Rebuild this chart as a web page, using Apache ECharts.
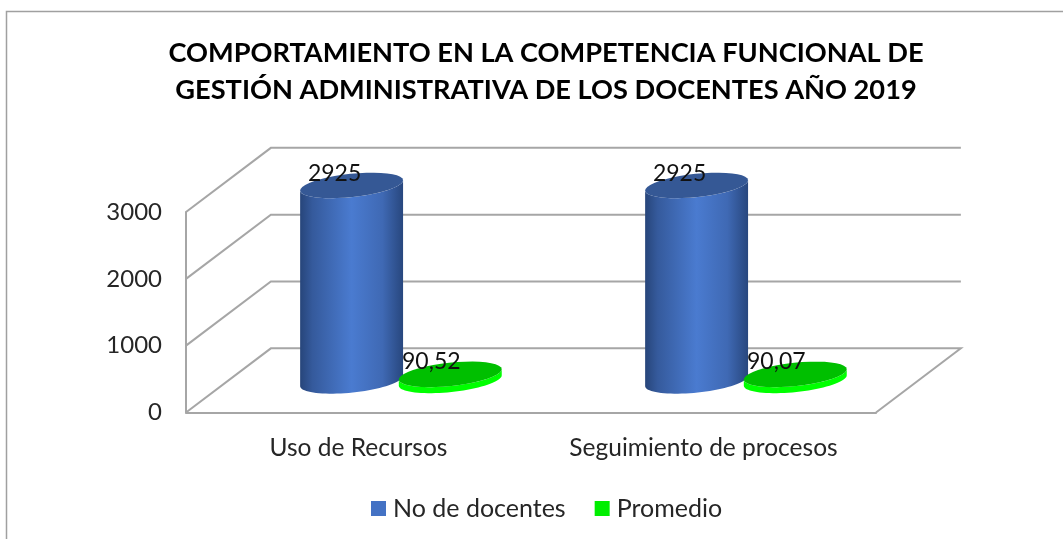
<!DOCTYPE html>
<html><head><meta charset="utf-8">
<style>html,body{margin:0;padding:0;background:#fff}#c{width:1063px;height:539px}</style>
<script src="https://cdn.jsdelivr.net/npm/echarts@6/dist/echarts.min.js"></script>
</head><body><div id="c"></div>
<script>
const titleText = 'COMPORTAMIENTO EN LA COMPETENCIA FUNCIONAL DE\nGESTIÓN ADMINISTRATIVA DE LOS DOCENTES AÑO 2019';
const categories = ['Uso de Recursos', 'Seguimiento de procesos'];
const docentes = [2925, 2925];
const promedio = [90.52, 90.07];
const yTicks = [0, 1000, 2000, 3000];

const FONT = 'Lato, "Noto Sans", sans-serif';
const depthX = 0.123, depthY = 0.32;   // oblique depth, as share of the plot size
const radius = 0.15, tilt = -6 * Math.PI / 180, squash = 0.225;

function ellipsePts(cx, cy, rx, ry, from, to) {
  const pts = [];
  for (let i = 0; i <= 40; i++) {
    const t = from + (to - from) * i / 40;
    const x = rx * Math.cos(t), y = ry * Math.sin(t);
    pts.push([cx + x * Math.cos(tilt) - y * Math.sin(tilt), cy + x * Math.sin(tilt) + y * Math.cos(tilt)]);
  }
  return pts;
}

function cylinder(opts) {
  return function (params, api) {
    const cs = params.coordSys;
    const band = api.size([1, 0])[0];
    const cat = api.value(0), val = api.value(1);
    const base = api.coord([cat, 0]), top = api.coord([cat, val]);
    const ox = cs.width * depthX / 2 + band * opts.shift;
    const oy = -cs.height * depthY / 2 + opts.lift;
    const rx = band * radius, ry = rx * squash;
    const cx = base[0] + ox, by = base[1] + oy, ty = top[1] + oy;
    const body = ellipsePts(cx, by, rx, ry, 0, Math.PI)
      .concat(ellipsePts(cx, ty, rx, ry, Math.PI, 0));
    const capPts = ellipsePts(cx, ty, rx, ry, 0, Math.PI * 2);
    const label = String(val).replace('.', ',');
    return {
      type: 'group',
      children: [
        { type: 'polygon', shape: { points: body }, style: { fill: opts.side } },
        { type: 'polygon', shape: { points: capPts }, style: { fill: opts.cap } },
        { type: 'text', style: {
            text: label, x: cx + opts.labelDx, y: ty + opts.labelDy,
            fill: '#111', font: '23px ' + FONT, align: 'center', verticalAlign: 'middle'
        } }
      ]
    };
  };
}

const blueSide = { type: 'linear', x: 0, y: 0, x2: 1, y2: 0, colorStops: [
  { offset: 0, color: '#27457a' }, { offset: 0.12, color: '#355a9c' },
  { offset: 0.5, color: '#4a7bd0' }, { offset: 0.8, color: '#3f69b4' }, { offset: 1, color: '#28477e' }
] };

const option = {
  animation: false,
  backgroundColor: '#fff',
  title: {
    text: titleText, left: 541, top: 30, textAlign: 'center',
    textStyle: { fontFamily: FONT, fontWeight: 'bold', fontSize: 27.2, lineHeight: 37, color: '#000' }
  },
  legend: {
    left: 366, top: 491, icon: 'rect', itemWidth: 15, itemHeight: 15, itemGap: 29,
    textStyle: { fontFamily: FONT, fontSize: 25, color: '#262626', padding: [0, 0, 0, 2] },
    data: ['No de docentes', 'Promedio']
  },
  grid: { left: 186, right: 187, top: 212, bottom: 126.5, containLabel: false },
  xAxis: {
    type: 'category', data: categories,
    axisLine: { lineStyle: { color: '#a6a6a6', width: 2 } },
    axisTick: { show: false }, splitLine: { show: false },
    axisLabel: { interval: 0, margin: 23, fontFamily: FONT, fontSize: 24.5, color: '#262626' }
  },
  yAxis: {
    type: 'value', min: 0, max: 3000, interval: 1000,
    axisLine: { show: true, lineStyle: { color: '#a6a6a6', width: 2 } },
    axisTick: { show: false }, splitLine: { show: false },
    axisLabel: { margin: 24, fontFamily: FONT, fontSize: 24, color: '#262626', formatter: v => String(v) }
  },
  graphic: [{ type: 'polyline', silent: true, z: -1,
    shape: { points: [[6.5, 539], [6.5, 11.5], [1063, 11.5]] },
    style: { fill: null, stroke: '#a0a0a0', lineWidth: 1.5 } }],
  series: [
    {
      type: 'custom', coordinateSystem: 'cartesian2d', silent: true, z: 1,
      data: yTicks.map(v => [0, v]),
      renderItem(params, api) {
        const cs = params.coordSys;
        const v = api.value(1);
        const p = api.coord([0, v]);
        const dx = cs.width * depthX, dy = -cs.height * depthY;
        const left = cs.x, right = cs.x + cs.width;
        const pts = [[left, p[1]], [left + dx, p[1] + dy], [right + dx, p[1] + dy]];
        if (v === 0) pts.push([right, p[1]]);
        return { type: 'polyline', shape: { points: pts },
          style: { fill: null, stroke: '#a6a6a6', lineWidth: 2 } };
      }
    },
    {
      name: 'No de docentes', type: 'custom', coordinateSystem: 'cartesian2d', silent: true, z: 3,
      itemStyle: { color: '#4472c4' },
      data: docentes.map((v, i) => [i, v]),
      renderItem: cylinder({ shift: -0.143, lift: 0.5, side: blueSide, cap: '#355895', labelDx: -17, labelDy: -12 })
    },
    {
      name: 'Promedio', type: 'custom', coordinateSystem: 'cartesian2d', silent: true, z: 4,
      itemStyle: { color: '#00ee00' },
      data: promedio.map((v, i) => [i, v]),
      renderItem: cylinder({ shift: 0.143, lift: 0, side: '#00ff00', cap: '#00bf00', labelDx: -19, labelDy: -13 })
    }
  ]
};
echarts.init(document.getElementById('c'), null, { renderer: 'canvas' }).setOption(option);
</script></body></html>
